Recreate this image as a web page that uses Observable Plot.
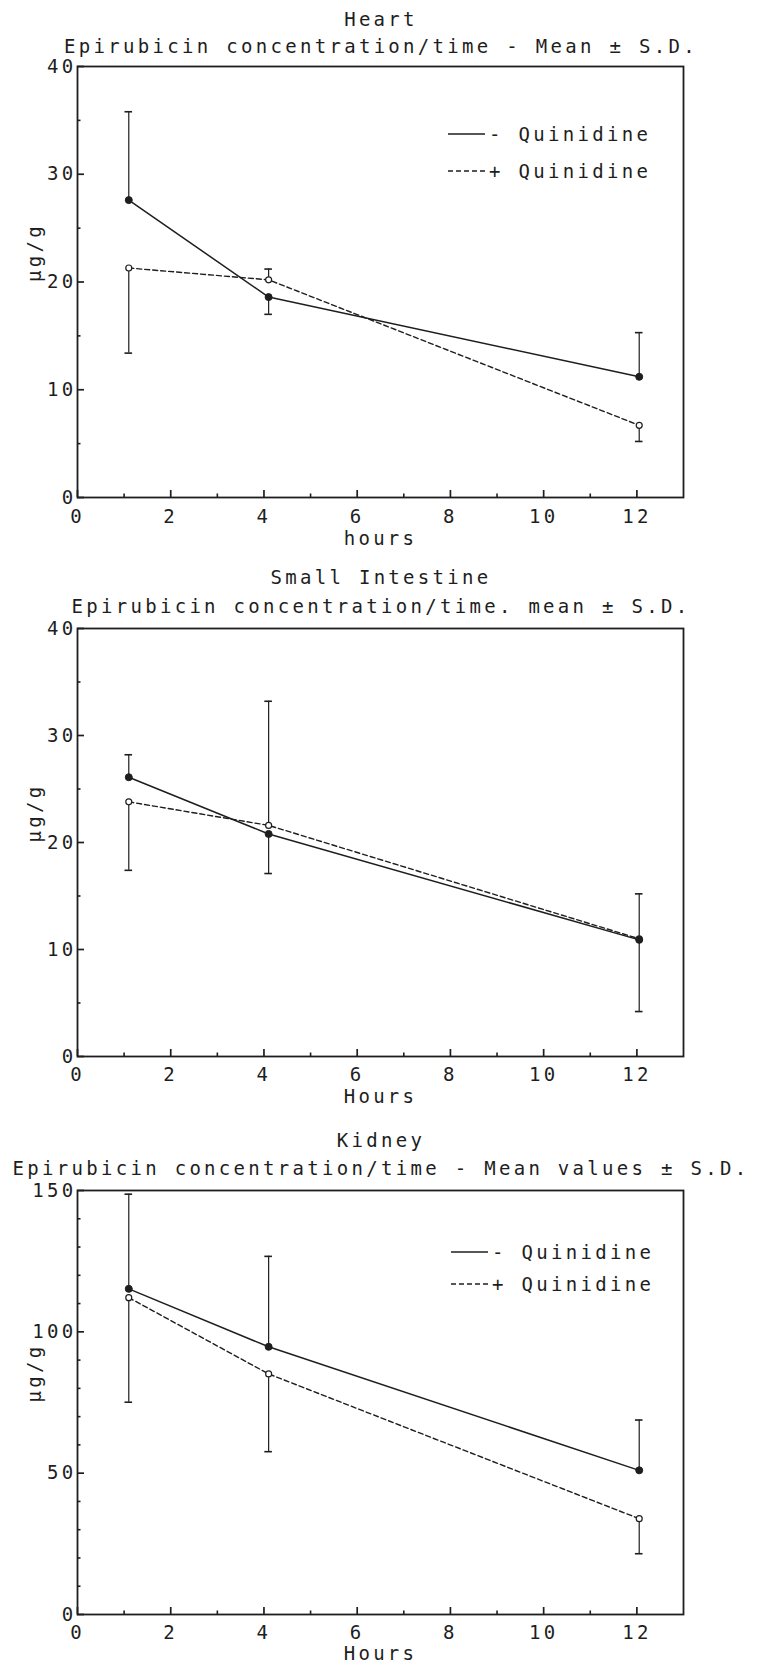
<!DOCTYPE html>
<html>
<head>
<meta charset="utf-8">
<script src="https://cdn.jsdelivr.net/npm/d3@7"></script>
<script src="https://cdn.jsdelivr.net/npm/@observablehq/plot@0.6"></script>
<style>
  body { margin: 0; background: #fff; }
  #page { position: relative; width: 762px; height: 1669px; font-family: "DejaVu Sans Mono", monospace; color: #1e1e1e; }
  .t { position: absolute; left: 0; width: 762px; text-align: center; font-size: 19px; letter-spacing: 3.3px; line-height: 20px; white-space: nowrap; }
  .panel { position: absolute; left: 0; }
  .legend { position: absolute; display: flex; align-items: center; height: 20px; font-size: 19px; letter-spacing: 3.3px; white-space: nowrap; }
  .legend svg { margin-right: 3px; }
</style>
</head>
<body>
<div id="page"></div>
<script>
// ---- data ----
const hours = [1.1, 4.1, 12.05];

const heartMinus     = [27.6, 18.6, 11.2];
const heartMinusSD   = [8.2, 1.6, 4.1];
const heartMinusSide = [1, -1, 1];
const heartPlus      = [21.3, 20.2, 6.7];
const heartPlusSD    = [7.9, 1.0, 1.5];
const heartPlusSide  = [-1, 1, -1];

const intMinus     = [26.1, 20.8, 10.9];
const intMinusSD   = [2.1, 3.7, 6.7];
const intMinusSide = [1, -1, -1];
const intPlus      = [23.8, 21.6, 11.0];
const intPlusSD    = [6.4, 11.6, 4.2];
const intPlusSide  = [-1, 1, 1];

const kidMinus     = [115.2, 94.7, 51.0];
const kidMinusSD   = [33.5, 32.0, 17.8];
const kidMinusSide = [1, 1, 1];
const kidPlus      = [112.1, 85.1, 33.9];
const kidPlusSD    = [37.0, 27.5, 12.4];
const kidPlusSide  = [-1, -1, -1];

const xMajorTicks = [0, 2, 4, 6, 8, 10, 12];
const xMinorTicks = [1, 3, 5, 7, 9, 11];
const y40Major = [0, 10, 20, 30, 40];
const y40Minor = [5, 15, 25, 35];
const y150Major = [0, 50, 100, 150];
const y150Minor = [10, 20, 30, 40, 60, 70, 80, 90, 110, 120, 130, 140];

const titles = [
  ["Heart", "Epirubicin concentration/time - Mean \u00b1 S.D."],
  ["Small Intestine", "Epirubicin concentration/time. mean \u00b1 S.D."],
  ["Kidney", "Epirubicin concentration/time - Mean values \u00b1 S.D."]
];
const xLabels = ["hours", "Hours", "Hours"];
const yLabel = "\u00b5g/g";
const legendLabels = ["- Quinidine", "+ Quinidine"];

// ---- helpers ----
const ink = "#1e1e1e";
const xMax = 13;

function rows(mean, sd, side) {
  return hours.map((h, i) => ({ h, m: mean[i], end: mean[i] + side[i] * sd[i] }));
}

function panel(cfg) {
  const minus = rows(cfg.minus, cfg.minusSD, cfg.minusSide);
  const plus = rows(cfg.plus, cfg.plusSD, cfg.plusSide);
  const width = 762, marginLeft = 77, marginRight = 79, marginTop = 10;
  const plotW = width - marginLeft - marginRight;
  const plotH = cfg.height - marginTop - cfg.marginBottom;
  // pixel lengths converted to data units
  const px = (n) => n * xMax / plotW;
  const py = (n) => n * cfg.yMax / plotH;
  const capHalf = px(3.8);
  return Plot.plot({
    width,
    height: cfg.height,
    marginLeft,
    marginRight,
    marginTop,
    marginBottom: cfg.marginBottom,
    style: { fontFamily: "DejaVu Sans Mono, monospace", fontSize: "19px", letterSpacing: "3.3px", color: ink, background: "transparent", overflow: "visible" },
    x: { domain: [0, xMax] },
    y: { domain: [0, cfg.yMax] },
    marks: [
      Plot.frame({ stroke: ink, strokeWidth: 1.8 }),
      Plot.axisX({ ticks: xMajorTicks, tickSize: 0, tickPadding: cfg.tickPad, label: null, tickFormat: d3.format("d") }),
      Plot.axisY({ ticks: cfg.yMajor, tickSize: 0, tickPadding: 1, label: null, tickFormat: d3.format("d") }),
      // inward ticks
      Plot.ruleX(xMajorTicks, { x: d => d, y1: 0, y2: py(7), stroke: ink, strokeWidth: 1.7 }),
      Plot.ruleX(xMinorTicks, { x: d => d, y1: 0, y2: py(3.5), stroke: ink, strokeWidth: 1.6 }),
      Plot.ruleY(cfg.yMajor, { y: d => d, x1: 0, x2: px(7), stroke: ink, strokeWidth: 1.7 }),
      Plot.ruleY(cfg.yMinor, { y: d => d, x1: 0, x2: px(3.5), stroke: ink, strokeWidth: 1.6 }),
      // error bars
      Plot.ruleX(minus, { x: "h", y1: "m", y2: "end", stroke: ink, strokeWidth: 1.2 }),
      Plot.ruleX(plus, { x: "h", y1: "m", y2: "end", stroke: ink, strokeWidth: 1.2 }),
      Plot.ruleY(minus, { y: "end", x1: d => d.h - capHalf, x2: d => d.h + capHalf, stroke: ink, strokeWidth: 1.6 }),
      Plot.ruleY(plus, { y: "end", x1: d => d.h - capHalf, x2: d => d.h + capHalf, stroke: ink, strokeWidth: 1.6 }),
      // lines
      Plot.line(plus, { x: "h", y: "m", stroke: ink, strokeWidth: 1.4, strokeDasharray: "5,3" }),
      Plot.line(minus, { x: "h", y: "m", stroke: ink, strokeWidth: 1.5 }),
      // points
      Plot.dot(plus, { x: "h", y: "m", r: 3, fill: "white", stroke: ink, strokeWidth: 1.2 }),
      Plot.dot(minus, { x: "h", y: "m", r: 3.5, fill: ink, stroke: ink, strokeWidth: 1 }),
      // axis titles
      Plot.text([yLabel], { frameAnchor: "left", dx: -43, rotate: -90, fill: ink }),
      Plot.text([cfg.xLabel], { frameAnchor: "bottom", dy: cfg.xLabelDy, fill: ink })
    ]
  });
}

const page = document.getElementById("page");

function addTitle(text, top) {
  const d = document.createElement("div");
  d.className = "t";
  d.style.top = top + "px";
  d.textContent = text;
  page.appendChild(d);
}

function addPanel(svg, top) {
  const d = document.createElement("div");
  d.className = "panel";
  d.style.top = top + "px";
  d.appendChild(svg);
  page.appendChild(d);
}

function addLegend(left, top, label, dashed) {
  const d = document.createElement("div");
  d.className = "legend";
  d.style.left = left + "px";
  d.style.top = top + "px";
  const ns = "http://www.w3.org/2000/svg";
  const s = document.createElementNS(ns, "svg");
  s.setAttribute("width", "38");
  s.setAttribute("height", "20");
  const ln = document.createElementNS(ns, "line");
  ln.setAttribute("x1", "0"); ln.setAttribute("x2", "37");
  ln.setAttribute("y1", "10"); ln.setAttribute("y2", "10");
  ln.setAttribute("stroke", ink);
  ln.setAttribute("stroke-width", dashed ? "1.4" : "1.5");
  if (dashed) ln.setAttribute("stroke-dasharray", "5,3");
  s.appendChild(ln);
  d.appendChild(s);
  const sp = document.createElement("span");
  sp.textContent = label;
  d.appendChild(sp);
  page.appendChild(d);
}

// Panel 1: Heart
addTitle(titles[0][0], 8.5);
addTitle(titles[0][1], 36);
addPanel(panel({
  minus: heartMinus, minusSD: heartMinusSD, minusSide: heartMinusSide,
  plus: heartPlus, plusSD: heartPlusSD, plusSide: heartPlusSide,
  yMax: 40, yMajor: y40Major, yMinor: y40Minor,
  height: 504, marginBottom: 63, xLabel: xLabels[0], xLabelDy: 47, tickPad: 12
}), 56);
addLegend(448, 124, legendLabels[0], false);
addLegend(448, 161, legendLabels[1], true);

// Panel 2: Small Intestine
addTitle(titles[1][0], 567);
addTitle(titles[1][1], 595.5);
addPanel(panel({
  minus: intMinus, minusSD: intMinusSD, minusSide: intMinusSide,
  plus: intPlus, plusSD: intPlusSD, plusSide: intPlusSide,
  yMax: 40, yMajor: y40Major, yMinor: y40Minor,
  height: 497, marginBottom: 59, xLabel: xLabels[1], xLabelDy: 46, tickPad: 11
}), 618);

// Panel 3: Kidney
addTitle(titles[2][0], 1130);
addTitle(titles[2][1], 1158);
addPanel(panel({
  minus: kidMinus, minusSD: kidMinusSD, minusSide: kidMinusSide,
  plus: kidPlus, plusSD: kidPlusSD, plusSide: kidPlusSide,
  yMax: 150, yMajor: y150Major, yMinor: y150Minor,
  height: 489, marginBottom: 55, xLabel: xLabels[2], xLabelDy: 45, tickPad: 11
}), 1180);
addLegend(451, 1242, legendLabels[0], false);
addLegend(451, 1273.6, legendLabels[1], true);
</script>
</body>
</html>
